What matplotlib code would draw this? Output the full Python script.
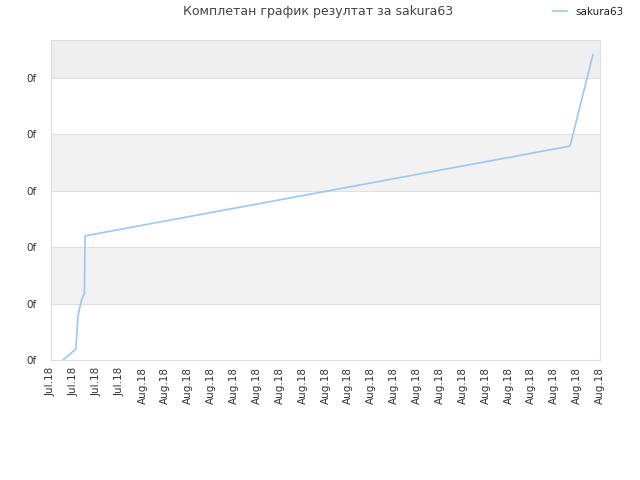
import matplotlib
matplotlib.use("Agg")
import matplotlib.pyplot as plt
from matplotlib.patches import Rectangle

title = "Комплетан график резултат за sakura63"
series_name = "sakura63"
x_labels = ["Jul.18"] * 4 + ["Aug.18"] * 21
y_labels = ["0f"] * 6
x_vals = [0.52, 1.09, 1.18, 1.33, 1.46, 1.49, 22.69, 23.69]
y_vals = [0.0, 0.195, 0.78, 1.06, 1.18, 2.2, 3.79, 5.41]

fig = plt.figure(figsize=(6.4, 4.8), dpi=100)
ax = fig.add_axes([51/640, 120/480, 549/640, 320/480])
ymax = 5.67
ax.set_xlim(0, 24)
ax.set_ylim(0, ymax)

# background bands
band_colors = ["white", "#f2f2f2", "white", "#f2f2f2", "white", "#eeeeee"]
for i, c in enumerate(band_colors):
    top = min(i + 1, ymax)
    ax.add_patch(Rectangle((0, i), 24, top - i, facecolor=c, edgecolor="none", zorder=0))
for i in range(1, 6):
    ax.axhline(i, color="#e0e0e0", lw=0.8, zorder=1)

ax.plot(x_vals, y_vals, color="#99c8f5", lw=1.2, zorder=3, label=series_name)

ax.set_xticks(range(len(x_labels)))
ax.set_xticklabels(x_labels, rotation=90, fontsize=7.5, color="#333333")
ax.set_yticks(range(len(y_labels)))
ax.set_yticklabels(y_labels, fontsize=7.5, color="#333333")
ax.tick_params(axis="x", length=0, pad=5)
ax.tick_params(axis="y", length=0, pad=10)
for s in ax.spines.values():
    s.set_color("#dddddd")
    s.set_linewidth(0.8)

fig.text(318/640, 1 - 12/480, title, ha="center", va="center", fontsize=9, color="#444444")
leg = fig.legend(loc="center left", bbox_to_anchor=(548/640, 1 - 12/480), frameon=False,
                 fontsize=7.5, handlelength=1.3, handletextpad=0.8, borderpad=0)
for t in leg.get_texts():
    t.set_color("#222222")

fig.savefig("out.png", dpi=100)
